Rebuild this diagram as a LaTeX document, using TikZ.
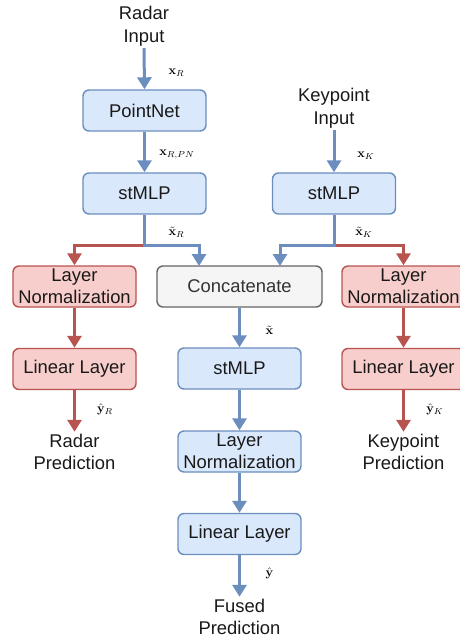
\documentclass[tikz,border=0pt]{standalone}
\usepackage[no-math]{fontspec}
\setmainfont{Liberation Sans}
\usepackage{amsmath}
\usetikzlibrary{arrows.meta,calc}
\definecolor{bfill}{HTML}{DAE8FC}
\definecolor{bline}{HTML}{6C8EBF}
\definecolor{rfill}{HTML}{F8CECC}
\definecolor{rline}{HTML}{B85450}
\definecolor{gfill}{HTML}{F5F5F5}
\definecolor{gline}{HTML}{666666}
\definecolor{gtext}{HTML}{333333}
\tikzset{
  box/.style={rounded corners=6pt, line width=1.4pt, minimum width=123pt, minimum height=41pt, inner sep=0pt, align=center, font=\fontsize{18.4}{21.5}\selectfont, text=black!90},
  bbox/.style={box, fill=bfill, draw=bline},
  rbox/.style={box, fill=rfill, draw=rline},
  gbox/.style={box, fill=gfill, draw=gline, text=gtext},
  txt/.style={align=center, inner sep=2pt, font=\fontsize{18.4}{22.5}\selectfont, text=black!90},
  barrow/.style={draw=bline, line width=3pt, -{Triangle[width=14pt,length=12pt]}, color=bline},
  rarrow/.style={draw=rline, line width=3pt, -{Triangle[width=14pt,length=12pt]}, color=rline},
  lbl/.style={inner sep=0pt, scale=1.25}
}
\begin{document}
\begin{tikzpicture}[x=1pt,y=-1pt]
\useasboundingbox (0,0) rectangle (459,639);
% text nodes
\node[txt] (rin) at (144,26) {Radar\\Input};
\node[txt] (kin) at (334,108) {Keypoint\\Input};
% boxes
\node[bbox] (pn) at (144.5,110.5) {PointNet};
\node[bbox] (rs) at (144.5,193.5) {stMLP};
\node[bbox] (ks) at (334,193.5) {stMLP};
\node[rbox] (rln) at (74.5,286.5) {Layer\\Normalization};
\node[gbox, minimum width=165pt] (cat) at (239.5,286.5) {Concatenate};
\node[rbox] (kln) at (403.5,286.5) {Layer\\Normalization};
\node[rbox] (rll) at (74.5,369) {Linear Layer};
\node[bbox] (cs) at (239.5,368.5) {stMLP};
\node[rbox] (kll) at (403.5,369) {Linear Layer};
\node[bbox] (cln) at (239.5,451.5) {Layer\\Normalization};
\node[bbox] (cll) at (239.5,534) {Linear Layer};
\node[txt] (rpred) at (74.5,452) {Radar\\Prediction};
\node[txt] (kpred) at (403.5,452) {Keypoint\\Prediction};
\node[txt] (fpred) at (239.5,617) {Fused\\Prediction};
% split coordinates
\coordinate (rsplit) at (144.5,245);
\coordinate (ksplit) at (334,245);
\coordinate (catR) at (199,266);
\coordinate (catK) at (280,266);
% arrows
\draw[barrow] (rin.south) -- (pn.north);
\draw[barrow] (pn.south) -- (rs.north);
\draw[barrow] (kin.south) -- (ks.north);
\draw[rarrow] (rsplit) -| (rln.north);
\draw[barrow] (rs.south) -- (rsplit) -| (catR);
\draw[rarrow] (ksplit) -| (kln.north);
\draw[barrow] (ks.south) -- (ksplit) -| (catK);
\draw[rarrow] (rln.south) -- (rll.north);
\draw[rarrow] (kln.south) -- (kll.north);
\draw[rarrow] (rll.south) -- (rpred.north);
\draw[rarrow] (kll.south) -- (kpred.north);
\draw[barrow] (cat.south) -- (cs.north);
\draw[barrow] (cs.south) -- (cln.north);
\draw[barrow] (cln.south) -- (cll.north);
\draw[barrow] (cll.south) -- (fpred.north);
% labels
\node[lbl] (l1) at (176.5,73) {$\mathbf{x}_R$};
\node[lbl] (l2) at (177,155) {$\mathbf{x}_{R,PN}$};
\node[lbl] (l3) at (176.5,232) {$\tilde{\mathbf{x}}_R$};
\node[lbl] (l4) at (366,156) {$\mathbf{x}_K$};
\node[lbl] (l5) at (364,232) {$\tilde{\mathbf{x}}_K$};
\node[lbl] (l6) at (269.5,330) {$\tilde{\mathbf{x}}$};
\node[lbl] (l7) at (105,409) {$\hat{\mathbf{y}}_R$};
\node[lbl] (l8) at (435,409) {$\hat{\mathbf{y}}_K$};
\node[lbl] (l9) at (269.5,573) {$\hat{\mathbf{y}}$};
\end{tikzpicture}
\end{document}
